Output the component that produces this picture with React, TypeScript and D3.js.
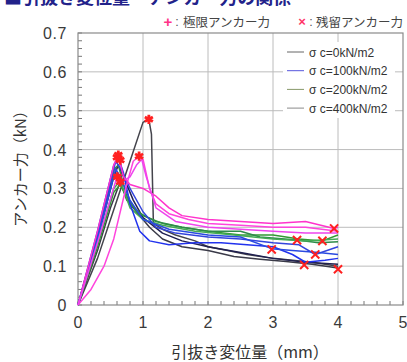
import React from 'react';
import * as d3 from 'd3';

type Pt = [number, number];

const xTicks = [0, 1, 2, 3, 4, 5];
const yTicks = [0, 0.1, 0.2, 0.3, 0.4, 0.5, 0.6, 0.7];

const legendLabels = ['σ c=0kN/m2', 'σ c=100kN/m2', 'σ c=200kN/m2', 'σ c=400kN/m2'];
const legendColors = ['#666666', '#5555dd', '#88996a', '#8a8a8a'];

// 0 kN/m2
const black1: Pt[] = [[0, 0], [0.3, 0.12], [0.6, 0.27], [0.8, 0.37], [1.0, 0.47], [1.09, 0.478], [1.13, 0.44], [1.16, 0.21], [1.3, 0.195], [1.5, 0.18], [1.8, 0.165], [2.0, 0.15], [2.3, 0.14], [2.6, 0.13], [3.0, 0.12], [3.3, 0.115], [3.6, 0.11], [4.0, 0.1]];
const black2: Pt[] = [[0, 0], [0.3, 0.14], [0.5, 0.25], [0.65, 0.317], [0.75, 0.27], [0.9, 0.24], [1.1, 0.2], [1.3, 0.17], [1.6, 0.15], [2.0, 0.14], [2.4, 0.125], [2.8, 0.118], [3.2, 0.112], [3.6, 0.105], [4.0, 0.095]];
const black3: Pt[] = [[0, 0], [0.3, 0.17], [0.55, 0.33], [0.62, 0.36], [0.7, 0.33], [0.85, 0.27], [1.0, 0.225], [1.3, 0.185], [1.6, 0.165], [2.0, 0.15], [2.5, 0.135], [3.0, 0.12], [3.5, 0.11], [4.0, 0.105]];
// 100 kN/m2
const blue1: Pt[] = [[0, 0], [0.3, 0.19], [0.55, 0.36], [0.62, 0.38], [0.7, 0.34], [0.8, 0.26], [0.95, 0.19], [1.1, 0.165], [1.4, 0.155], [1.8, 0.16], [2.2, 0.16], [2.6, 0.155], [3.0, 0.15], [3.3, 0.13], [3.5, 0.11], [3.8, 0.115], [4.0, 0.12]];
const blue2: Pt[] = [[0, 0], [0.3, 0.18], [0.58, 0.37], [0.66, 0.35], [0.8, 0.3], [1.0, 0.24], [1.2, 0.2], [1.5, 0.185], [2.0, 0.175], [2.5, 0.17], [3.0, 0.16], [3.4, 0.155], [3.65, 0.13], [4.0, 0.15]];
const blue3: Pt[] = [[0, 0], [0.3, 0.17], [0.58, 0.35], [0.65, 0.33], [0.8, 0.27], [1.0, 0.22], [1.4, 0.195], [2.0, 0.18], [2.5, 0.175], [2.98, 0.145], [3.3, 0.14], [3.7, 0.135], [4.0, 0.13]];
// 200 kN/m2
const green1: Pt[] = [[0, 0], [0.3, 0.15], [0.55, 0.29], [0.65, 0.31], [0.8, 0.26], [1.0, 0.23], [1.3, 0.21], [1.6, 0.2], [2.0, 0.19], [2.5, 0.18], [3.0, 0.18], [3.4, 0.17], [3.76, 0.165], [4.0, 0.18]];
const green2: Pt[] = [[0, 0], [0.3, 0.18], [0.56, 0.35], [0.62, 0.36], [0.75, 0.28], [0.9, 0.24], [1.2, 0.215], [1.6, 0.2], [2.0, 0.19], [2.5, 0.19], [2.8, 0.175], [3.37, 0.167], [3.7, 0.16], [4.0, 0.163]];
const green3: Pt[] = [[0, 0], [0.3, 0.16], [0.55, 0.3], [0.65, 0.32], [0.8, 0.25], [1.0, 0.22], [1.3, 0.205], [1.8, 0.19], [2.4, 0.18], [3.0, 0.17], [3.5, 0.165], [4.0, 0.17]];
// 400 kN/m2
const pink1: Pt[] = [[0, 0], [0.2, 0.04], [0.4, 0.1], [0.55, 0.17], [0.65, 0.24], [0.75, 0.31], [0.85, 0.37], [0.94, 0.383], [1.0, 0.375], [1.1, 0.3], [1.2, 0.26], [1.4, 0.235], [1.7, 0.22], [2.0, 0.21], [2.5, 0.205], [3.0, 0.2], [3.5, 0.2], [4.0, 0.19]];
const pink2: Pt[] = [[0, 0], [0.3, 0.19], [0.55, 0.36], [0.62, 0.386], [0.7, 0.33], [0.8, 0.31], [1.0, 0.3], [1.2, 0.28], [1.4, 0.25], [1.6, 0.23], [2.0, 0.22], [2.5, 0.215], [3.0, 0.21], [3.5, 0.215], [3.94, 0.197], [4.0, 0.2]];
const pink3: Pt[] = [[0, 0], [0.3, 0.16], [0.6, 0.33], [0.7, 0.32], [0.8, 0.33], [0.9, 0.36], [0.98, 0.375], [1.05, 0.33], [1.2, 0.25], [1.5, 0.215], [2.0, 0.2], [2.5, 0.195], [3.0, 0.19], [3.5, 0.185], [4.0, 0.185]];

const series: { pts: Pt[]; color: string }[] = [
  { pts: black1, color: '#44444c' },
  { pts: black2, color: '#3a3a48' },
  { pts: black3, color: '#202050' },
  { pts: green1, color: '#339933' },
  { pts: green2, color: '#2e8b4a' },
  { pts: green3, color: '#44aa55' },
  { pts: blue1, color: '#2233ee' },
  { pts: blue2, color: '#3344dd' },
  { pts: blue3, color: '#2a4ae0' },
  { pts: pink1, color: '#ff44dd' },
  { pts: pink2, color: '#ff33cc' },
  { pts: pink3, color: '#ee44ee' },
];

// + : ultimate, x : residual
const ultimate: Pt[] = [[0.62, 0.386], [0.65, 0.373], [0.6, 0.38], [0.605, 0.33], [0.65, 0.317], [0.94, 0.383], [1.09, 0.478]];
const residual: Pt[] = [[4.0, 0.092], [3.48, 0.103], [3.65, 0.13], [2.98, 0.143], [3.76, 0.165], [3.37, 0.167], [3.94, 0.197]];

const W = 407;
const H = 362;
const JP = "'Noto Sans CJK JP', 'Noto Sans', sans-serif";
const NUM = "'Liberation Sans', Arial, sans-serif";

const App: React.FC = () => {
  const ref = React.useRef<SVGSVGElement>(null);

  React.useEffect(() => {
    const svg = d3.select(ref.current);
    svg.selectAll('*').remove();
    const left = 78, right = 403, top = 33, bottom = 305;

    const x = d3.scaleLinear().domain([0, 5]).range([left, right]);
    const y = d3.scaleLinear().domain([0, 0.7]).range([bottom, top]);

    svg.append('rect').attr('width', W).attr('height', H).attr('fill', '#ffffff');

    // title, cut by the top edge
    svg.append('text')
      .attr('x', 4).attr('y', 4)
      .attr('font-family', JP).attr('font-size', 18).attr('font-weight', 'bold')
      .attr('fill', '#22228a')
      .text('■引抜き変位量－アンカー力の関係');

    // grid
    const grid = svg.append('g').attr('stroke', '#bcbcbc').attr('stroke-width', 1);
    xTicks.slice(1, -1).forEach((t) => {
      grid.append('line').attr('x1', x(t)).attr('x2', x(t)).attr('y1', top).attr('y2', bottom);
    });
    yTicks.slice(1, -1).forEach((t) => {
      grid.append('line').attr('x1', left).attr('x2', right).attr('y1', y(t)).attr('y2', y(t));
    });

    // minor ticks
    const tk = svg.append('g').attr('stroke', '#777').attr('stroke-width', 1);
    d3.range(0, 5.001, 0.2).forEach((t) => {
      tk.append('line').attr('x1', x(t)).attr('x2', x(t)).attr('y1', bottom).attr('y2', bottom - 4);
    });
    d3.range(0, 0.7001, 0.02).forEach((t) => {
      tk.append('line').attr('x1', left).attr('x2', left + 4).attr('y1', y(t)).attr('y2', y(t));
    });

    // frame
    svg.append('rect')
      .attr('x', left).attr('y', top).attr('width', right - left).attr('height', bottom - top)
      .attr('fill', 'none').attr('stroke', '#8a8a8a').attr('stroke-width', 1.2);

    // legend box
    const lg = svg.append('g');
    lg.append('rect').attr('x', 283).attr('y', 42).attr('width', 112).attr('height', 76).attr('fill', '#ffffff');
    legendLabels.forEach((lab, i) => {
      const ly = 52 + i * 18.7;
      lg.append('line').attr('x1', 287).attr('x2', 304).attr('y1', ly).attr('y2', ly)
        .attr('stroke', legendColors[i]).attr('stroke-width', 1);
      lg.append('text').attr('x', 309).attr('y', ly + 4.5)
        .attr('font-family', NUM).attr('font-size', 12).attr('fill', '#333')
        .text(lab);
    });

    // curves
    const line = d3.line<Pt>().x((d) => x(d[0])).y((d) => y(d[1])).curve(d3.curveLinear);
    series.forEach((s) => {
      svg.append('path').datum(s.pts)
        .attr('fill', 'none').attr('stroke', s.color).attr('stroke-width', 1.5)
        .attr('stroke-linejoin', 'round')
        .attr('d', line);
    });

    // markers
    svg.selectAll('path.ult').data(ultimate).enter().append('path')
      .attr('class', 'ult')
      .attr('transform', (d) => `translate(${x(d[0])},${y(d[1])})`)
      .attr('d', d3.symbol().type(d3.symbolAsterisk).size(60)())
      .attr('fill', 'none').attr('stroke', '#ff2020').attr('stroke-width', 2.8);
    svg.selectAll('path.res').data(residual).enter().append('path')
      .attr('class', 'res')
      .attr('transform', (d) => `translate(${x(d[0])},${y(d[1])})`)
      .attr('d', d3.symbol().type(d3.symbolTimes).size(45)())
      .attr('fill', 'none').attr('stroke', '#ff2020').attr('stroke-width', 2);

    // marker legend above the plot
    const mk = svg.append('g').attr('font-size', 12.5);
    mk.append('text').attr('x', 168).attr('y', 27).attr('text-anchor', 'middle')
      .attr('font-family', NUM).attr('font-size', 15).attr('font-weight', 'bold').attr('fill', '#ff3388')
      .text('+');
    mk.append('text').attr('x', 177).attr('y', 26).attr('text-anchor', 'middle')
      .attr('font-family', NUM).attr('fill', '#555').text(':');
    mk.append('text').attr('x', 183).attr('y', 27)
      .attr('font-family', JP).attr('fill', '#444').text('極限アンカー力');
    mk.append('text').attr('x', 302).attr('y', 26).attr('text-anchor', 'middle')
      .attr('font-family', NUM).attr('font-size', 13).attr('font-weight', 'bold').attr('fill', '#ff3366')
      .text('×');
    mk.append('text').attr('x', 311).attr('y', 26).attr('text-anchor', 'middle')
      .attr('font-family', NUM).attr('fill', '#555').text(':');
    mk.append('text').attr('x', 316).attr('y', 27)
      .attr('font-family', JP).attr('fill', '#444').text('残留アンカー力');

    // tick labels
    xTicks.forEach((t) => {
      svg.append('text').attr('x', x(t)).attr('y', 328).attr('text-anchor', 'middle')
        .attr('font-family', NUM).attr('font-size', 16).attr('fill', '#3a3a3a')
        .text(String(t));
    });
    yTicks.forEach((t) => {
      svg.append('text').attr('x', 67).attr('y', y(t) + 6).attr('text-anchor', 'end')
        .attr('font-family', NUM).attr('font-size', 16).attr('letter-spacing', 0.6).attr('fill', '#3a3a3a')
        .text(t === 0 ? '0' : d3.format('.1f')(t));
    });

    // axis titles
    svg.append('text').attr('x', 250).attr('y', 358).attr('text-anchor', 'middle')
      .attr('font-family', JP).attr('font-size', 16).attr('fill', '#333')
      .text('引抜き変位量（mm）');
    svg.append('text')
      .attr('transform', `translate(26,165) rotate(-90)`)
      .attr('text-anchor', 'middle')
      .attr('font-family', JP).attr('font-size', 15).attr('fill', '#333')
      .text('アンカー力（kN）');
  }, []);

  return (
    <svg ref={ref} width={W} height={H} style={{ position: 'absolute', left: 0, top: 0 }} />
  );
};

export default App;
